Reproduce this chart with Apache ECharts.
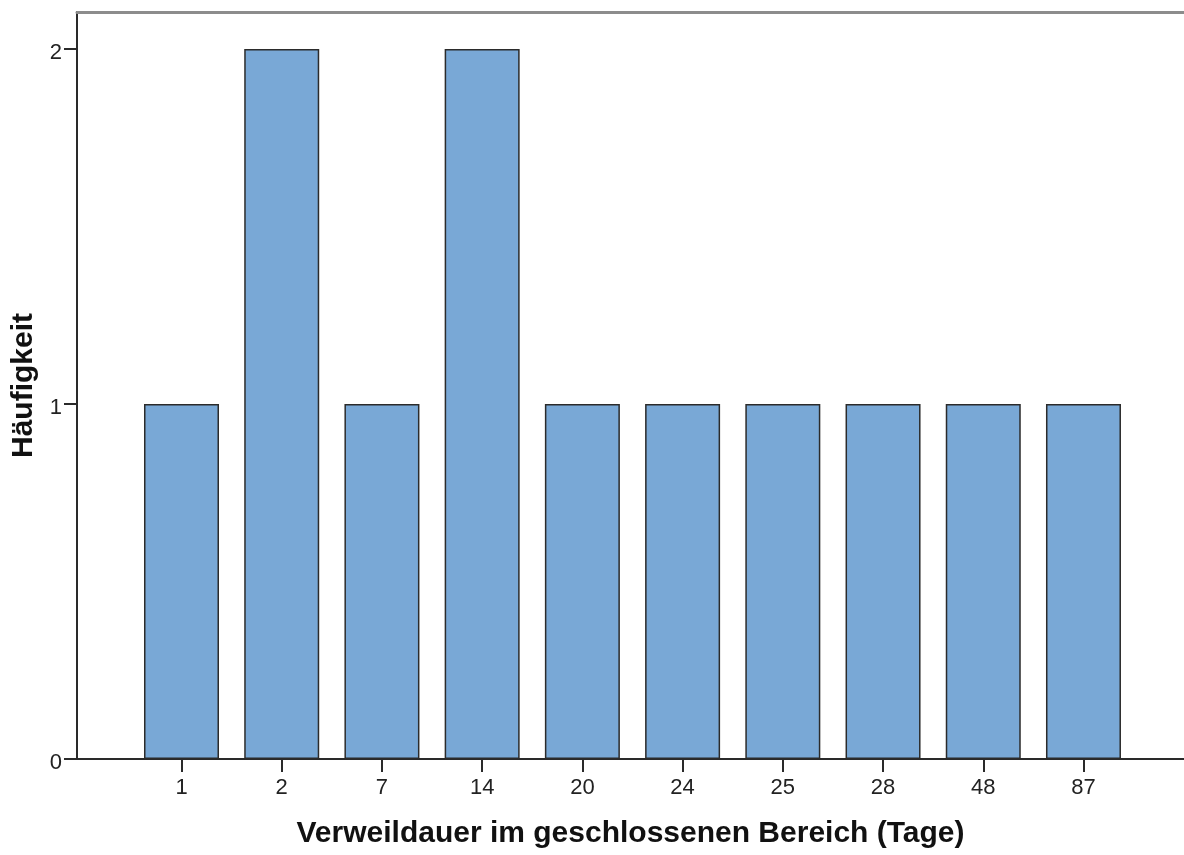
<!DOCTYPE html>
<html>
<head>
<meta charset="utf-8">
<script src="https://cdn.jsdelivr.net/npm/echarts@6/dist/echarts.min.js"></script>
<style>
html,body{margin:0;padding:0;background:#fff;}
#chart{width:1184px;height:855px;}
</style>
</head>
<body>
<div id="chart"></div>
<script>
// Data
const categories = ['1', '2', '7', '14', '20', '24', '25', '28', '48', '87'];
const counts = [1, 2, 1, 2, 1, 1, 1, 1, 1, 1];
const yTicks = [0, 1, 2];
const xTitle = 'Verweildauer im geschlossenen Bereich (Tage)';
const yTitle = 'Häufigkeit';

const idx = categories.map((c, i) => i);
const barData = counts.map((v, i) => [i, v]);

const FONT = "'Liberation Sans', Arial, sans-serif";
const chart = echarts.init(document.getElementById('chart'), null, {renderer: 'canvas'});
chart.setOption({
  animation: false,
  backgroundColor: '#ffffff',
  grid: {left: 77, right: 0, top: 12, bottom: 96, containLabel: false},
  xAxis: [{
    type: 'value',
    min: -1.0427,
    max: 10.003,
    position: 'bottom',
    axisLine: {show: true, onZero: false, lineStyle: {color: '#2a2a2a', width: 2}},
    axisTick: {show: true, length: 13, customValues: idx, lineStyle: {color: '#2a2a2a', width: 2}},
    axisLabel: {
      show: true, customValues: idx, margin: 18,
      fontFamily: FONT, fontSize: 22, color: '#222',
      formatter: v => categories[Math.round(v)]
    },
    splitLine: {show: false},
    name: xTitle,
    nameLocation: 'middle',
    nameGap: 60,
    nameTextStyle: {fontFamily: FONT, fontSize: 30, fontWeight: 'bold', color: '#111'}
  }, {
    type: 'value',
    min: -1.0427,
    max: 10.003,
    position: 'top',
    axisLine: {show: true, onZero: false, lineStyle: {color: '#8c8c8c', width: 3}},
    axisTick: {show: false},
    axisLabel: {show: false},
    splitLine: {show: false}
  }],
  yAxis: {
    type: 'value',
    min: 0,
    max: 2.104,
    position: 'left',
    axisLine: {show: true, onZero: false, lineStyle: {color: '#2a2a2a', width: 2}},
    axisTick: {show: true, length: 13, customValues: yTicks, lineStyle: {color: '#2a2a2a', width: 2}},
    axisLabel: {
      show: true, customValues: yTicks, margin: 15,
      fontFamily: FONT, fontSize: 22, color: '#222',
      formatter: v => '{a|' + v + '}',
      rich: {a: {fontFamily: FONT, fontSize: 22, color: '#222', padding: [8, 0, 0, 0]}}
    },
    splitLine: {show: false},
    name: yTitle,
    nameLocation: 'middle',
    nameGap: 33,
    nameTextStyle: {fontFamily: FONT, fontSize: 30, fontWeight: 'bold', color: '#111'}
  },
  series: [{
    type: 'bar',
    xAxisIndex: 0,
    data: barData,
    barWidth: 75,
    itemStyle: {color: '#79a8d6', borderColor: '#2b2b2b', borderWidth: 1.5}
  }]
});
</script>
</body>
</html>
